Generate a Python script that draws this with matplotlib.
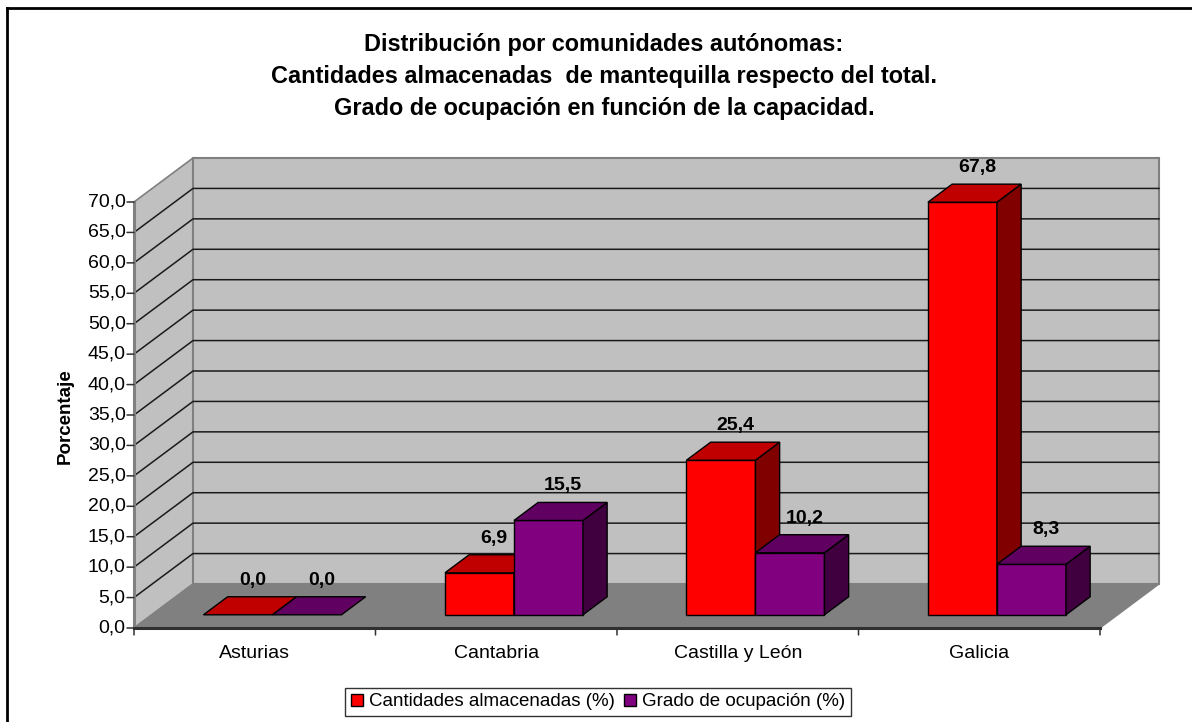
import matplotlib
matplotlib.use("Agg")
import matplotlib.pyplot as plt
from matplotlib.patches import Polygon, Rectangle
from matplotlib.lines import Line2D

plt.rcParams['font.family'] = ['Liberation Sans', 'DejaVu Sans']

# ---- data ----
categories = ["Asturias", "Cantabria", "Castilla y León", "Galicia"]
series_names = ["Cantidades almacenadas (%)", "Grado de ocupación (%)"]
cantidades = [0.0, 6.9, 25.4, 67.8]
ocupacion = [0.0, 15.5, 10.2, 8.3]
y_ticks = [0, 5, 10, 15, 20, 25, 30, 35, 40, 45, 50, 55, 60, 65, 70]
title_lines = ["Distribución por comunidades autónomas:",
               "Cantidades almacenadas  de mantequilla respecto del total.",
               "Grado de ocupación en función de la capacidad."]
y_label = "Porcentaje"

# ---- styles ----
front_cols = ["#FF0000", "#800080"]
top_cols = ["#C00000", "#600060"]
side_cols = ["#800000", "#400040"]
wall_col = "#C0C0C0"
floor_col = "#808080"

W, H = 1192, 722
fig = plt.figure(figsize=(W / 100, H / 100), dpi=100)

# front plot box in pixels
px0, px1 = 134, 1100
py0, py1 = 628, 202
ax = fig.add_axes([px0 / W, 1 - py0 / H, (px1 - px0) / W, (py0 - py1) / H])
ncat = len(categories)
ymax = 70
ax.set_xlim(0, ncat)
ax.set_ylim(0, ymax)
ax.axis("off")

# depth offsets in data units
DX = 59 / ((px1 - px0) / ncat)
DY = 44 / ((py0 - py1) / ymax)


def P(x, v, t):
    return (x + t * DX, v + t * DY)


def poly(pts, fc, ec, lw=1.0, z=1):
    p = Polygon(pts, closed=True, facecolor=fc, edgecolor=ec, lw=lw,
                clip_on=False, zorder=z, joinstyle="miter")
    ax.add_patch(p)


# walls and floor
poly([P(0, 0, 0), P(0, ymax, 0), P(0, ymax, 1), P(0, 0, 1)], wall_col, "#808080", 1.2, 1)
poly([P(0, 0, 1), P(0, ymax, 1), P(ncat, ymax, 1), P(ncat, 0, 1)], wall_col, "#808080", 1.5, 1)
poly([P(0, 0, 0), P(ncat, 0, 0), P(ncat, 0, 1), P(0, 0, 1)], floor_col, "#808080", 1.0, 2)

# gridlines
for v in y_ticks[1:-1]:
    a, b, c = P(0, v, 0), P(0, v, 1), P(ncat, v, 1)
    ax.add_line(Line2D([a[0], b[0], c[0]], [a[1], b[1], c[1]], color="#1a1a1a",
                       lw=1.1, clip_on=False, zorder=1.5))

# axes lines
ax.add_line(Line2D([0, 0], [0, ymax], color="#808080", lw=2.2, clip_on=False, zorder=3))
ax.add_line(Line2D([0, ncat], [0, 0], color="#303030", lw=2.2, clip_on=False, zorder=3))

FS = 14

# y ticks & labels
for v in y_ticks:
    ax.annotate("", xy=(0, v), xycoords="data", xytext=(-5, 0), textcoords="offset points",
                arrowprops=dict(arrowstyle="-", color="#303030", lw=1.1,
                                shrinkA=0, shrinkB=0), annotation_clip=False)
    ax.annotate(f"{v:.1f}".replace(".", ","), xy=(0, v), xytext=(-6, 0),
                textcoords="offset points", ha="right", va="center",
                fontsize=FS, color="black", annotation_clip=False)

# x ticks & labels
for k in range(ncat + 1):
    ax.annotate("", xy=(k, 0), xycoords="data", xytext=(0, -5), textcoords="offset points",
                arrowprops=dict(arrowstyle="-", color="#303030", lw=1.1,
                                shrinkA=0, shrinkB=0), annotation_clip=False)
for k, c in enumerate(categories):
    ax.annotate(c, xy=(k + 0.5, 0), xytext=(0, -18), textcoords="offset points",
                ha="center", va="center", fontsize=FS, annotation_clip=False)

# bars
w = 2 / 7
tf, tb = 0.30, 0.71
all_series = [cantidades, ocupacion]
for i in range(ncat):
    for s, vals in enumerate(all_series):
        v = vals[i]
        x0 = i + 0.5 - w + s * w
        x1 = x0 + w
        z = 4 + i * 0.1 + s * 0.01
        if v > 0:
            poly([P(x0, 0, tf), P(x1, 0, tf), P(x1, v, tf), P(x0, v, tf)], front_cols[s], "black", 1.0, z)
            poly([P(x1, 0, tf), P(x1, 0, tb), P(x1, v, tb), P(x1, v, tf)], side_cols[s], "black", 1.0, z)
        poly([P(x0, v, tf), P(x1, v, tf), P(x1, v, tb), P(x0, v, tb)], top_cols[s], "black", 1.0, z)
        lx, ly = P((x0 + x1) / 2, v, 0.55)
        ax.annotate(f"{v:.1f}".replace(".", ","), xy=(lx, ly), xytext=(0, 17),
                    textcoords="offset points", ha="center", va="center",
                    fontsize=FS, fontweight="bold", annotation_clip=False, zorder=10)

# y label
fig.text(65 / W, 1 - 416 / H, y_label, rotation=90, ha="center", va="center",
         fontsize=13.5, fontweight="bold")

# title
for j, line in enumerate(title_lines):
    fig.text(604 / W, 1 - (45 + 31.5 * j) / H, line, ha="center", va="center",
             fontsize=16.9, fontweight="bold")

# legend
leg_handles = [Rectangle((0, 0), 1, 1, facecolor=front_cols[s], edgecolor="black", lw=1)
               for s in range(2)]
leg = fig.legend(leg_handles, series_names, loc="center", bbox_to_anchor=(598 / W, 1 - 702 / H),
                 ncol=2, fontsize=13.5, frameon=True, fancybox=False, edgecolor="black",
                 handlelength=0.65, handleheight=0.65, handletextpad=0.3, columnspacing=0.5,
                 borderpad=0.3, borderaxespad=0)
leg.get_frame().set_linewidth(1.0)

# figure border (top & left)
fig.add_artist(Line2D([7 / W, 1], [1 - 8 / H, 1 - 8 / H], color="black", lw=2,
                      transform=fig.transFigure))
fig.add_artist(Line2D([7 / W, 7 / W], [0, 1 - 8 / H], color="black", lw=2,
                      transform=fig.transFigure))

fig.savefig("out.png", dpi=100)
